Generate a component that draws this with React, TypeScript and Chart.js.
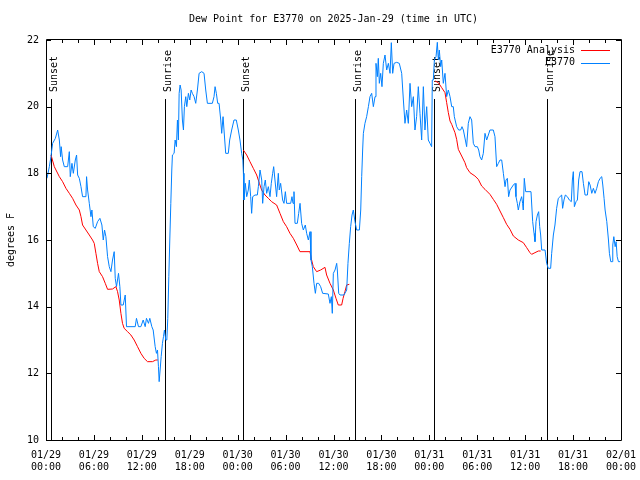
import React, { useEffect, useRef } from 'react';
import { Chart, registerables } from 'chart.js';

Chart.register(...registerables);

const FONT = '"DejaVu Sans Mono", "Liberation Mono", monospace';

const chartTitle = 'Dew Point for E3770 on 2025-Jan-29 (time in UTC)';
const yAxisTitle = 'degrees F';
const seriesNames = ['E3770 Analysis', 'E3770'];
const seriesColors = ['#ff0000', '#0080ff'];

const tickDates = ['01/29', '01/29', '01/29', '01/29', '01/30', '01/30', '01/30', '01/30', '01/31', '01/31', '01/31', '01/31', '02/01'];
const tickTimes = ['00:00', '06:00', '12:00', '18:00', '00:00', '06:00', '12:00', '18:00', '00:00', '06:00', '12:00', '18:00', '00:00'];

// hours since 01/29 00:00 UTC
const sunHours = [0.63, 14.9, 24.7, 38.7, 48.63, 62.78];
const sunLabels = ['Sunset', 'Sunrise', 'Sunset', 'Sunrise', 'Sunset', 'Sunrise'];

const obsHours = [
  0.12, 0.42, 0.62, 0.83, 1.17, 1.46, 1.67, 1.83, 1.9, 2.08, 2.29, 2.71, 2.92, 3.04, 3.25, 3.42, 3.67, 3.83, 3.96, 4.17,
  4.38, 4.58, 5.0, 5.08, 5.21, 5.42, 5.63, 5.75, 5.92, 6.17, 6.46, 6.75, 7.0, 7.17, 7.33, 7.5, 7.71, 7.92, 8.13, 8.33,
  8.54, 8.67, 8.83, 9.08, 9.25, 9.38, 9.67, 9.92, 10.08, 11.17, 11.33, 11.58, 11.88, 12.17, 12.42, 12.58, 12.83, 13.0, 13.25, 13.42,
  13.67, 13.83, 13.96, 14.08, 14.17, 14.29, 14.42, 14.58, 14.71, 14.83, 15.0, 15.13, 15.25, 15.38, 15.5, 15.63, 15.75, 15.83, 16.04, 16.17,
  16.33, 16.46, 16.58, 16.67, 16.79, 16.92, 17.08, 17.21, 17.33, 17.5, 17.63, 17.83, 18.0, 18.17, 18.33, 18.54, 18.75, 18.96, 19.17, 19.5,
  19.79, 20.0, 20.21, 20.83, 21.04, 21.17, 21.33, 21.5, 21.67, 21.88, 22.0, 22.17, 22.29, 22.5, 22.83, 23.0, 23.25, 23.54, 23.83, 24.08,
  24.29, 24.5, 24.65, 24.72, 24.79, 24.96, 25.13, 25.33, 25.46, 25.63, 25.75, 25.88, 26.17, 26.46, 26.59, 26.8, 27.01, 27.13, 27.3, 27.46,
  27.63, 27.84, 28.05, 28.21, 28.38, 28.51, 28.67, 28.88, 29.09, 29.21, 29.38, 29.63, 29.8, 29.97, 30.13, 30.64, 30.8, 30.93, 31.05, 31.18,
  31.47, 31.64, 31.81, 32.01, 32.22, 32.47, 32.64, 32.85, 33.06, 33.18, 33.35, 33.56, 33.73, 33.89, 34.14, 34.39, 34.64, 35.35, 35.56, 35.73,
  35.85, 35.98, 36.19, 36.4, 36.48, 36.65, 36.82, 37.31, 37.65, 37.81, 37.98, 38.15, 38.32, 38.48, 38.69, 38.9, 39.24, 39.41, 39.53, 39.65,
  39.74, 39.94, 40.15, 40.37, 40.57, 40.78, 40.99, 41.2, 41.32, 41.49, 41.61, 41.74, 41.91, 42.07, 42.24, 42.45, 42.66, 42.87, 43.08, 43.24,
  43.41, 43.58, 43.91, 44.24, 44.54, 44.75, 44.95, 45.16, 45.37, 45.58, 45.79, 46.0, 46.2, 46.41, 46.62, 46.83, 47.04, 47.25, 47.45, 47.67,
  47.87, 48.08, 48.29, 48.37, 48.5, 48.63, 48.84, 49.0, 49.13, 49.25, 49.42, 49.55, 49.75, 49.96, 50.17, 50.38, 50.59, 50.8, 51.0, 51.13,
  51.42, 51.67, 51.92, 52.09, 52.26, 52.51, 52.67, 52.88, 53.09, 53.3, 53.51, 53.72, 54.01, 54.18, 54.34, 54.55, 54.76, 54.97, 55.18, 55.39,
  55.59, 56.01, 56.22, 56.43, 56.64, 56.85, 57.06, 57.27, 57.48, 57.6, 57.77, 57.93, 58.1, 58.52, 58.73, 58.85, 59.02, 59.14, 59.35, 59.56,
  59.68, 59.76, 59.89, 60.06, 60.73, 60.94, 61.11, 61.23, 61.36, 61.53, 61.69, 61.82, 61.94, 62.07, 62.49, 62.69, 62.9, 63.19, 63.32, 63.53,
  63.73, 63.94, 64.15, 64.36, 64.57, 64.69, 64.86, 65.03, 65.28, 65.53, 65.78, 65.91, 66.03, 66.16, 66.37, 66.54, 66.7, 66.87, 67.12, 67.29,
  67.5, 67.79, 67.96, 68.13, 68.34, 68.54, 68.75, 68.96, 69.17, 69.38, 69.59, 69.72, 69.88, 70.01, 70.22, 70.43, 70.55, 70.72, 70.89, 70.97,
  71.1, 71.27, 71.39, 71.52, 71.68, 71.89,
];
const obsValues = [
  17.85, 18.2, 18.5, 18.9, 19.05, 19.3, 19.0, 18.5, 18.8, 18.4, 18.2, 18.2, 18.65, 17.9, 18.3, 18.0, 18.4, 18.55, 17.95, 17.85,
  17.6, 17.3, 17.3, 17.9, 17.5, 17.1, 16.7, 16.9, 16.4, 16.35, 16.55, 16.65, 16.45, 16.0, 16.3, 16.1, 15.5, 15.2, 15.05, 15.4,
  15.65, 14.85, 14.6, 15.0, 14.6, 14.05, 14.05, 14.35, 13.4, 13.4, 13.65, 13.4, 13.4, 13.6, 13.4, 13.65, 13.5, 13.65, 13.4, 13.3,
  12.8, 12.6, 12.7, 12.2, 11.75, 12.1, 12.5, 12.9, 13.1, 13.3, 13.0, 13.0, 13.65, 14.9, 16.0, 17.1, 18.1, 18.55, 18.6, 19.0,
  18.8, 19.6, 19.0, 20.4, 20.65, 20.5, 19.6, 19.3, 20.0, 20.3, 20.0, 20.4, 20.2, 20.5, 20.4, 20.3, 20.1, 20.5, 21.0, 21.05,
  21.0, 20.5, 20.1, 20.1, 20.3, 20.6, 20.4, 20.1, 20.1, 19.6, 19.2, 19.7, 19.3, 18.6, 18.6, 19.0, 19.3, 19.6, 19.6, 19.3,
  19.0, 18.6, 18.4, 18.0, 17.2, 17.7, 17.3, 17.5, 17.8, 17.3, 16.8, 17.3, 17.35, 17.35, 17.6, 18.1, 17.8, 17.1, 17.6, 17.8,
  17.4, 17.6, 17.3, 17.7, 18.0, 18.2, 17.8, 17.3, 18.0, 17.5, 17.7, 17.2, 17.1, 17.45, 17.1, 17.1, 17.3, 17.1, 17.45, 16.5,
  16.5, 16.8, 17.1, 16.5, 16.3, 16.45, 16.2, 16.0, 16.25, 15.4, 15.2, 14.7, 14.4, 14.7, 14.7, 14.6, 14.4, 14.38, 14.1, 14.3,
  13.8, 15.0, 15.1, 15.3, 15.1, 14.4, 14.35, 14.35, 14.5, 15.3, 15.9, 16.4, 16.75, 16.9, 16.55, 16.3, 16.3, 16.9, 17.9, 18.7,
  19.2, 19.5, 19.7, 20.0, 20.3, 20.4, 20.0, 20.3, 21.3, 20.9, 21.45, 20.7, 21.0, 20.6, 21.3, 21.55, 21.1, 21.3, 21.0, 21.92,
  21.0, 21.3, 21.33, 21.3, 21.0, 20.2, 19.5, 19.9, 19.5, 20.7, 20.0, 20.3, 19.3, 19.7, 20.6, 19.8, 19.0, 20.6, 19.3, 20.0,
  19.0, 18.9, 18.8, 20.8, 20.8, 21.4, 21.5, 21.93, 21.4, 21.7, 21.2, 21.4, 20.7, 21.0, 20.3, 20.5, 20.3, 20.0, 20.0, 19.7,
  19.4, 19.3, 19.3, 19.4, 19.3, 19.0, 18.8, 19.5, 19.7, 19.6, 18.9, 18.8, 18.8, 18.7, 18.5, 18.4, 18.6, 19.2, 19.0, 19.15,
  19.3, 19.3, 19.1, 18.2, 18.3, 18.4, 18.4, 18.0, 17.6, 17.8, 17.85, 17.3, 17.5, 17.65, 17.7, 17.3, 17.1, 16.9, 17.15, 17.3,
  17.1, 16.9, 17.85, 17.45, 17.45, 16.55, 16.2, 15.95, 16.55, 16.75, 16.85, 16.4, 16.15, 15.7, 15.7, 15.3, 15.15, 15.15, 15.6, 16.15,
  16.45, 16.95, 17.25, 17.3, 17.35, 16.95, 17.2, 17.35, 17.3, 17.2, 17.15, 17.8, 18.05, 17.0, 17.15, 17.2, 17.8, 18.05, 18.05, 17.7,
  17.35, 17.35, 17.75, 17.65, 17.4, 17.55, 17.4, 17.55, 17.75, 17.85, 17.9, 17.65, 17.25, 16.9, 16.55, 16.0, 15.6, 15.35, 15.35, 15.85,
  16.1, 15.8, 15.95, 15.5, 15.35, 15.35,
];

// null marks a gap (no analysis during daytime)
const anaHours = [
  0.63, 1.04, 1.67, 2.08, 2.5, 2.92, 3.33, 3.75, 4.17, 4.38, 4.58, 5.0, 5.42, 5.83, 6.04, 6.25, 6.46, 6.67, 7.08, 7.42,
  7.71, 8.33, 8.75, 8.96, 9.17, 9.38, 9.58, 9.79, 10.21, 10.63, 11.04, 11.46, 11.88, 12.29, 12.71, 13.33, 13.75, 14.0, 19.0,
  24.71, 25.13, 25.54, 25.96, 26.38, 26.72, 27.0, 27.42, 27.84, 28.25, 28.88, 29.3, 29.72, 30.13, 30.55, 30.97, 31.4, 31.8, 33.05, 33.26,
  33.47, 33.89, 34.39, 34.93, 35.14, 35.56, 35.98, 36.31, 36.6, 37.02, 37.2, 37.43, 37.65, 37.98, 43.0,
  48.71, 49.13, 49.55, 49.96, 50.17, 50.38, 50.59, 50.8, 51.21, 51.42, 51.63, 52.05, 52.46, 52.67, 53.09, 53.71, 54.13, 54.55, 54.97, 55.59,
  56.01, 56.43, 56.85, 57.27, 57.68, 58.1, 58.52, 59.14, 59.77, 60.19, 60.6, 60.81, 61.23, 61.65, 61.94,
];
const anaValues = [
  18.55, 18.2, 17.9, 17.75, 17.55, 17.4, 17.25, 17.05, 16.9, 16.7, 16.45, 16.3, 16.15, 16.0, 15.9, 15.6, 15.3, 15.05, 14.9, 14.7,
  14.52, 14.53, 14.6, 14.45, 14.2, 13.8, 13.5, 13.35, 13.25, 13.15, 13.0, 12.8, 12.6, 12.45, 12.35, 12.35, 12.4, 12.4, null,
  18.7, 18.55, 18.35, 18.15, 17.95, 17.7, 17.5, 17.35, 17.25, 17.15, 17.05, 16.8, 16.55, 16.4, 16.2, 16.05, 15.85, 15.65, 15.65, 15.4,
  15.2, 15.05, 15.1, 15.18, 14.95, 14.7, 14.5, 14.25, 14.05, 14.05, 14.25, 14.45, 14.65, 14.67, null,
  20.77, 20.72, 20.57, 20.42, 20.12, 19.82, 19.57, 19.47, 19.22, 19.02, 18.72, 18.52, 18.32, 18.17, 18.02, 17.92, 17.82, 17.62, 17.52, 17.37,
  17.22, 17.07, 16.87, 16.67, 16.47, 16.32, 16.12, 16.0, 15.92, 15.77, 15.62, 15.57, 15.62, 15.67, 15.67,
];

const decorPlugin = {
  id: 'decor',
  beforeDatasetsDraw(chart: any) {
    const { ctx, chartArea: a, scales } = chart;
    const x = scales.x;
    ctx.save();
    ctx.strokeStyle = '#000';
    ctx.lineWidth = 1;
    ctx.fillStyle = '#000';
    ctx.font = `10px ${FONT}`;
    sunHours.forEach((h: number, i: number) => {
      const px = Math.round(x.getPixelForValue(h)) + 0.5;
      ctx.beginPath();
      ctx.moveTo(px, a.top + 59);
      ctx.lineTo(px, a.bottom);
      ctx.stroke();
      ctx.save();
      ctx.translate(px + 5, a.top + 52);
      ctx.rotate(-Math.PI / 2);
      ctx.textAlign = 'left';
      ctx.textBaseline = 'alphabetic';
      ctx.fillText(sunLabels[i], 0, 0);
      ctx.restore();
    });
    ctx.restore();
  },
  afterDraw(chart: any) {
    const { ctx, chartArea: a, scales } = chart;
    const x = scales.x;
    const y = scales.y;
    ctx.save();
    ctx.strokeStyle = '#000';
    ctx.lineWidth = 1;
    // frame
    ctx.beginPath();
    ctx.rect(a.left + 0.5, a.top - 0.5, a.right - a.left, a.bottom - a.top + 1);
    ctx.stroke();
    // x ticks (every 2 h, major every 6 h), bottom and top
    ctx.beginPath();
    for (let h = 0; h <= 72; h += 2) {
      const len = h % 6 === 0 ? 5 : 3;
      const px = Math.round(x.getPixelForValue(h)) + 0.5;
      ctx.moveTo(px, a.bottom);
      ctx.lineTo(px, a.bottom - len);
      ctx.moveTo(px, a.top);
      ctx.lineTo(px, a.top + len);
    }
    for (let v = 10; v <= 22; v += 2) {
      const py = Math.round(y.getPixelForValue(v)) + 0.5;
      ctx.moveTo(a.left, py);
      ctx.lineTo(a.left + 5, py);
      ctx.moveTo(a.right, py);
      ctx.lineTo(a.right - 5, py);
    }
    ctx.stroke();
    // title
    ctx.fillStyle = '#000';
    ctx.font = `10px ${FONT}`;
    ctx.textAlign = 'center';
    ctx.textBaseline = 'middle';
    ctx.fillText(chartTitle, (a.left + a.right) / 2, 19);
    // legend
    ctx.textAlign = 'right';
    seriesNames.forEach((name: string, i: number) => {
      const ly = 50 + i * 12.5;
      ctx.fillStyle = '#000';
      ctx.fillText(name, 575, ly);
      ctx.strokeStyle = seriesColors[i];
      ctx.beginPath();
      ctx.moveTo(581, Math.round(ly) + 0.5);
      ctx.lineTo(610, Math.round(ly) + 0.5);
      ctx.stroke();
    });
    ctx.restore();
  },
};

export default function App() {
  const ref = useRef<HTMLCanvasElement | null>(null);
  useEffect(() => {
    if (!ref.current) return;
    Chart.defaults.font.family = FONT;
    Chart.defaults.font.size = 10;
    Chart.defaults.color = '#000';
    const anaData = anaHours.map((h, i) => ({ x: h, y: anaValues[i] }));
    const obsData = obsHours.map((h, i) => ({ x: h, y: obsValues[i] }));
    const chart = new Chart(ref.current, {
      type: 'line',
      data: {
        datasets: [
          {
            label: seriesNames[0],
            data: anaData as any,
            borderColor: seriesColors[0],
            borderWidth: 1,
            pointRadius: 0,
            tension: 0,
            spanGaps: false,
            order: 1,
          },
          {
            label: seriesNames[1],
            data: obsData as any,
            borderColor: seriesColors[1],
            borderWidth: 1,
            pointRadius: 0,
            tension: 0,
            order: 0,
          },
        ],
      },
      options: {
        animation: false,
        responsive: false,
        layout: { padding: { top: 40, right: 19, left: 0, bottom: 0 } },
        plugins: {
          legend: { display: false },
          title: { display: false },
          tooltip: { enabled: false },
        },
        scales: {
          x: {
            type: 'linear',
            min: 0,
            max: 72,
            grid: { display: false, drawTicks: false },
            border: { display: false },
            ticks: {
              stepSize: 6,
              autoSkip: false,
              maxRotation: 0,
              padding: 9,
              color: '#000',
              font: { family: FONT, size: 10 },
              callback: (v: any) => {
                const i = Math.round(Number(v) / 6);
                return [tickDates[i], tickTimes[i]];
              },
            },
            afterFit: (s: any) => {
              s.height = 40;
              s.paddingLeft = 0;
              s.paddingRight = 0;
            },
          },
          y: {
            type: 'linear',
            min: 10,
            max: 22,
            grid: { display: false, drawTicks: false },
            border: { display: false },
            ticks: {
              stepSize: 2,
              padding: 7,
              color: '#000',
              font: { family: FONT, size: 10 },
            },
            title: {
              display: true,
              text: yAxisTitle,
              color: '#000',
              font: { family: FONT, size: 10 },
              padding: { top: 5, bottom: 0 },
            },
            afterFit: (s: any) => {
              s.width = 46;
              s.paddingTop = 0;
              s.paddingBottom = 0;
            },
          },
        },
      },
      plugins: [decorPlugin],
    });
    return () => chart.destroy();
  }, []);
  return (
    <div style={{ position: 'fixed', left: 0, top: 0, width: 640, height: 480, background: '#fff' }}>
      <canvas ref={ref} width={640} height={480} style={{ display: 'block' }} />
    </div>
  );
}
